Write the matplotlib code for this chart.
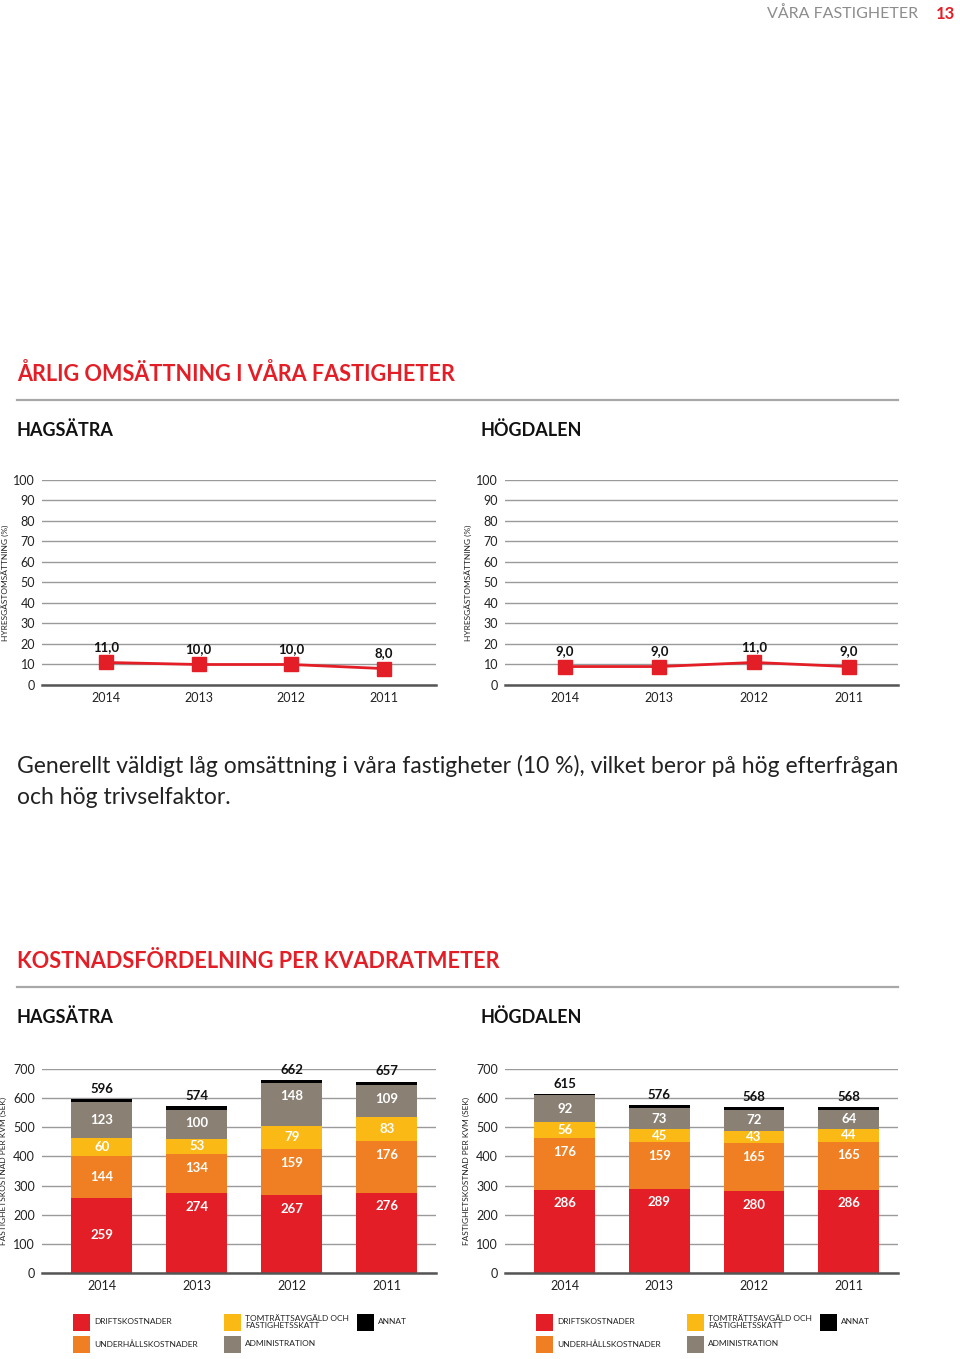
import numpy as np
import matplotlib.pyplot as plt
from matplotlib.patches import Rectangle
from matplotlib.lines import Line2D

plt.rcParams['font.family'] = ['Lato', 'DejaVu Sans']

W, H = 960, 1359

# ---- data ----
years = ['2014', '2013', '2012', '2011']
areas = ['HAGSÄTRA', 'HÖGDALEN']

turnover_hagsatra = [11.0, 10.0, 10.0, 8.0]
turnover_hogdalen = [9.0, 9.0, 11.0, 9.0]

cost_names = ['DRIFTSKOSTNADER', 'UNDERHÅLLSKOSTNADER', 'TOMTRÄTTSAVGÄLD OCH\nFASTIGHETSSKATT',
              'ADMINISTRATION', 'ANNAT']
# drift, underhåll, tomträtt, administration (annat = total - summan)
hagsatra_drift = [259, 274, 267, 276]
hagsatra_underhall = [144, 134, 159, 176]
hagsatra_tomtratt = [60, 53, 79, 83]
hagsatra_admin = [123, 100, 148, 109]
hagsatra_total = [596, 574, 662, 657]

hogdalen_drift = [286, 289, 280, 286]
hogdalen_underhall = [176, 159, 165, 165]
hogdalen_tomtratt = [56, 45, 43, 44]
hogdalen_admin = [92, 73, 72, 64]
hogdalen_total = [615, 576, 568, 568]

RED = '#e31e26'
ORANGE = '#ef7f22'
YELLOW = '#fbb916'
GRAY = '#8a8174'
BLACK = '#000000'
seg_colors = [RED, ORANGE, YELLOW, GRAY, BLACK]
TXT = '#222222'
GRID = '#9a9a9a'


def ax_px(fig, left, top, right, bottom):
    return fig.add_axes([left / W, 1 - bottom / H, (right - left) / W, (bottom - top) / H])


def fx(x):
    return x / W


def fy(y):
    return 1 - y / H


fig = plt.figure(figsize=(W / 100, H / 100), dpi=100)

# header
fig.text(fx(918), fy(14), 'VÅRA FASTIGHETER', ha='right', va='center', fontsize=11.5,
         color='#8c8c8c')
fig.text(fx(955), fy(14), '13', ha='right', va='center', fontsize=12, color=RED, fontweight='bold')


def section(title, y_title, y_rule, y_sub):
    fig.text(fx(17), fy(y_title), title, ha='left', va='center', fontsize=15.6,
             color=RED, fontweight='bold')
    fig.add_artist(Line2D([fx(17), fx(898)], [fy(y_rule), fy(y_rule)], color='#a8a8a8', lw=1.6))
    fig.text(fx(17), fy(y_sub), areas[0], ha='left', va='center', fontsize=13, color='#111',
             fontweight='bold')
    fig.text(fx(480), fy(y_sub), areas[1], ha='left', va='center', fontsize=13, color='#111',
             fontweight='bold')


def style_axes(ax, ymax, step, ylabel, labelx):
    ax.set_ylim(0, ymax)
    ax.set_yticks(np.arange(0, ymax + 1, step))
    ax.grid(axis='y', color=GRID, lw=1)
    ax.set_axisbelow(True)
    for s in ['top', 'right', 'left']:
        ax.spines[s].set_visible(False)
    ax.spines['bottom'].set_color('#555555')
    ax.spines['bottom'].set_linewidth(1.8)
    ax.tick_params(length=0, labelsize=9, colors=TXT)
    ax.tick_params(axis='y', pad=5)
    ax.tick_params(axis='x', pad=5)
    ax.set_xticks(range(len(years)))
    ax.set_xticklabels(years)
    ax.set_ylabel(ylabel, fontsize=6, color=TXT)
    ax.yaxis.set_label_coords(labelx, 0.5)


# ---- turnover line charts ----
section('ÅRLIG OMSÄTTNING I VÅRA FASTIGHETER', 374, 400, 430)

line_specs = [(turnover_hagsatra, 42, 436, -0.69, 3.56), (turnover_hogdalen, 505, 898, -0.63, 3.52)]
for vals, l, r, x0, x1 in line_specs:
    ax = ax_px(fig, l, 480, r, 685)
    style_axes(ax, 100, 10, 'HYRESGÄSTOMSÄTTNING (%)', -0.081)
    ax.set_xlim(x0, x1)
    x = np.arange(len(vals))
    ax.plot(x, vals, color=RED, lw=2, marker='s', markersize=9.5, zorder=3, clip_on=False)
    for xi, v in zip(x, vals):
        ax.annotate(f'{v:.1f}'.replace('.', ','), (xi, v), xytext=(0, 7), textcoords='offset points',
                    ha='center', va='bottom', fontsize=9.5, fontweight='bold', color='#111')

# paragraph
fig.text(fx(17), fy(766), 'Generellt väldigt låg omsättning i våra fastigheter (10 %), vilket beror på hög efterfrågan',
         ha='left', va='center', fontsize=16.5, color='#222')
fig.text(fx(17), fy(797), 'och hög trivselfaktor.', ha='left', va='center', fontsize=16.5, color='#222')

# ---- cost bar charts ----
section('KOSTNADSFÖRDELNING PER KVADRATMETER', 961, 987, 1017)

bar_specs = [
    ([hagsatra_drift, hagsatra_underhall, hagsatra_tomtratt, hagsatra_admin], hagsatra_total,
     42, 436, -0.63, 3.52, True),
    ([hogdalen_drift, hogdalen_underhall, hogdalen_tomtratt, hogdalen_admin], hogdalen_total,
     505, 898, -0.63, 3.52, False),
]
for segs, totals, l, r, x0, x1, first_centered in bar_specs:
    ax = ax_px(fig, l, 1069, r, 1273)
    style_axes(ax, 700, 100, 'FASTIGHETSKOSTNAD PER KVM (SEK)', -0.088)
    ax.set_xlim(x0, x1)
    x = np.arange(len(years))
    bottom = np.zeros(len(years))
    other = np.array(totals) - np.sum(segs, axis=0)
    for vals, c in zip(segs + [list(other)], seg_colors):
        vals = np.array(vals, dtype=float)
        ax.bar(x, vals, bottom=bottom, width=0.64, color=c, zorder=2)
        if c != BLACK:
            for i, (b, v) in enumerate(zip(bottom, vals)):
                top = b + v
                if first_centered and i == 0:
                    y = b + v / 2
                else:
                    y = top - min(v / 2, 47)
                ax.text(x[i], y, f'{int(v)}', ha='center', va='center', fontsize=9.5,
                        fontweight='bold', color='white', zorder=3)
        bottom = bottom + vals
    for xi, t in zip(x, totals):
        ax.annotate(f'{t}', (xi, t), xytext=(0, 3), textcoords='offset points', ha='center',
                    va='bottom', fontsize=9.5, fontweight='bold', color='#111')

# ---- legends ----
legend_cols = [[73, 224, 357], [536, 687, 820]]
rows = [1322, 1344]
slots = [(0, 0), (0, 1), (1, 0), (1, 1), (2, 0)]
for cols in legend_cols:
    for name, c, (ci, ri) in zip(cost_names, seg_colors, slots):
        sx = cols[ci]
        sy = rows[ri]
        fig.add_artist(Rectangle((fx(sx), fy(sy + 8.5)), 17 / W, 17 / H, color=c, lw=0))
        fig.text(fx(sx + 21), fy(sy), name, ha='left', va='center', fontsize=6, color=TXT,
                 linespacing=1.0)

fig.savefig('out.png', dpi=100)
